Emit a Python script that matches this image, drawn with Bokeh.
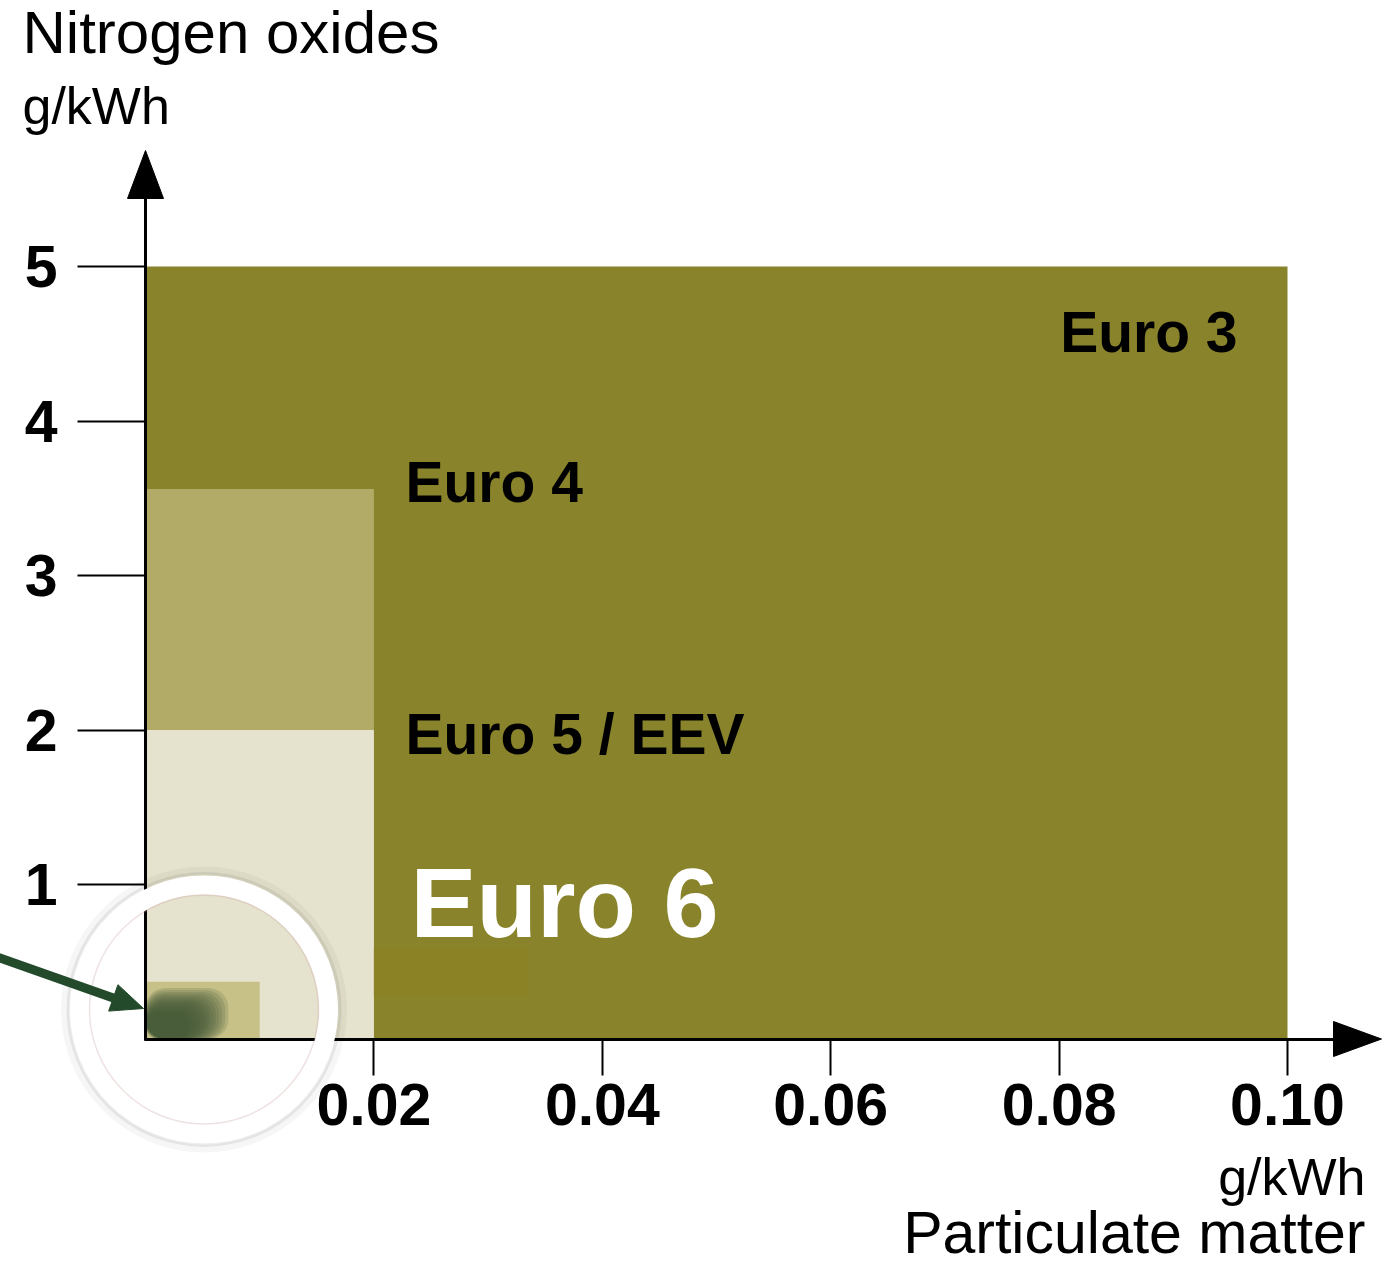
import math
from bokeh.plotting import figure
from bokeh.models import LinearAxis, FixedTicker, Range1d, Label
from bokeh.embed import file_html
from bokeh.resources import INLINE

# ---------------- data ----------------
standards = ["Euro 3", "Euro 4", "Euro 5 / EEV", "Euro 6"]
pm_limit = [0.10, 0.02, 0.02, 0.01]        # particulate matter, g/kWh
nox_limit = [5.0, 3.56, 2.0, 0.37]         # nitrogen oxides, g/kWh
box_colors = ["#89832b", "#b2aa67", "#e5e2cd", "#c7c187"]

future_pm = 0.0055                          # dark highlighted corner
future_nox = 0.25

x_ticks = [0.02, 0.04, 0.06, 0.08, 0.10]
x_tick_labels = ["0.02", "0.04", "0.06", "0.08", "0.10"]
y_ticks = [1, 2, 3, 4, 5]
y_tick_labels = ["1", "2", "3", "4", "5"]

# ---------------- geometry ----------------
W, H = 1383, 1270
OX, OY = 145.0, 1038.5          # origin in picture pixels
PX_X = 11420.0                  # pixels per g/kWh (PM)
PX_Y = 154.5                    # pixels per g/kWh (NOx)


def dx(px):
    return (px - OX) / PX_X


def dy(py):
    return (OY - py) / PX_Y


FONT = "Liberation Sans"
GREEN = "#234a2b"

p = figure(width=W, height=H,
           x_range=Range1d(dx(0), dx(W)),
           y_range=Range1d(dy(H), dy(0)),
           min_border=0, toolbar_location=None, output_backend="svg",
           x_axis_type=None, y_axis_type=None)
p.outline_line_color = None
p.background_fill_color = "white"
p.border_fill_color = "white"

# ---------------- boxes ----------------
for pm, nox, col in zip(pm_limit, nox_limit, box_colors):
    p.quad(left=0, right=pm, bottom=0, top=nox, fill_color=col,
           line_color=None)

# faint darker band behind the Euro 6 label (as in the picture)
p.quad(left=pm_limit[1], right=pm_limit[1] + 0.0135, bottom=0.27, top=0.59,
       fill_color="#8b8226", line_color=None)

# blurred dark-green corner (stacked translucent layers)
n_layers = 14
for i in range(n_layers):
    k = 1.32 - 0.05 * i
    p.quad(left=0, right=future_pm * k, bottom=0, top=future_nox * k,
           fill_color="#44593a", fill_alpha=0.18, line_color=None,
           border_radius=20)

# ---------------- axes ----------------
x_tip = dx(1381)
y_tip = dy(150)
common = dict(fixed_location=0, axis_line_width=3, axis_line_color="black",
              major_tick_in=0, major_tick_line_width=2,
              major_tick_line_color="black", minor_tick_out=0, minor_tick_in=0,
              major_label_text_font=FONT, major_label_text_font_style="bold",
              major_label_text_font_size="59px", major_label_text_color="black")
xaxis = LinearAxis(bounds=(dx(OX - 1.5), x_tip - 30 / PX_X),
                   ticker=FixedTicker(ticks=x_ticks),
                   major_label_overrides={t: s for t, s in zip(x_ticks, x_tick_labels)},
                   major_tick_out=36, major_label_standoff=9, **common)
p.add_layout(xaxis, "below")

yaxis = LinearAxis(bounds=(dy(OY + 1.5), y_tip - 30 / PX_Y),
                   ticker=FixedTicker(ticks=y_ticks),
                   major_label_overrides={t: s for t, s in zip(y_ticks, y_tick_labels)},
                   major_tick_out=68, major_label_standoff=20, **common)
p.add_layout(yaxis, "left")

# arrow heads of the axes
hl_y, hw_x = 48 / PX_Y, 18 / PX_X
p.patch([-hw_x, 0, hw_x], [y_tip - hl_y, y_tip, y_tip - hl_y],
        fill_color="black", line_color="black")
hl_x, hw_y = 48 / PX_X, 17.5 / PX_Y
p.patch([x_tip - hl_x, x_tip, x_tip - hl_x], [-hw_y, 0, hw_y],
        fill_color="black", line_color="black")

# ---------------- magnifier ring ----------------
cx, cy = dx(203.5), dy(1009)
for r, a, w in [(139, 0.035, 8), (135.5, 0.07, 4)]:
    p.circle(x=[cx], y=[cy], radius=r, radius_units="screen",
             fill_color=None, line_color="black", line_alpha=a, line_width=w,
             level="annotation")
p.circle(x=[cx], y=[cy], radius=124.5, radius_units="screen",
         fill_color=None, line_color="white", line_width=19,
         level="annotation")
p.circle(x=[cx], y=[cy], radius=114.5, radius_units="screen",
         fill_color=None, line_color="#c9a0a0", line_alpha=0.3, line_width=1.5,
         level="annotation")

# ---------------- green pointer arrow ----------------
sx0, sy0 = -5.0, 956.0           # start (picture px)
sx1, sy1 = 143.0, 1008.0         # tip
ux, uy = sx1 - sx0, sy1 - sy0
ln = math.hypot(ux, uy)
ux, uy = ux / ln, uy / ln
head_len, head_half = 32.0, 14.0
bx, by = sx1 - head_len * ux, sy1 - head_len * uy
p.line([dx(sx0), dx(bx + 3 * ux)], [dy(sy0), dy(by + 3 * uy)],
       line_color=GREEN, line_width=9, level="annotation")
p.patch([dx(sx1), dx(bx - head_half * uy), dx(bx + head_half * uy)],
        [dy(sy1), dy(by + head_half * ux), dy(by - head_half * ux)],
        fill_color=GREEN, line_color=GREEN, level="annotation")


# ---------------- texts ----------------
def add_label(txt, px, py, size, style="normal", color="black", align="left"):
    # py is the wanted baseline (picture px); compensate bokeh's anchor
    p.add_layout(Label(x=dx(px), y=dy(py - 0.38 * size), text=txt,
                       text_font=FONT, text_font_size=f"{size}px",
                       text_font_style=style, text_color=color,
                       text_align=align, text_baseline="alphabetic"))


add_label("Nitrogen oxides", 22, 55, 60)
add_label("g/kWh", 22, 125, 52)
add_label("g/kWh", 1365, 1196, 52, align="right")
add_label("Particulate matter", 1365, 1255, 59, align="right")

add_label(standards[0], 1237, 353, 57, "bold", align="right")
add_label(standards[1], 405, 503, 57, "bold")
add_label(standards[2], 405, 755, 57, "bold")
add_label(standards[3], 410, 940, 99, "bold", color="#ffffff")

open("out.html", "w").write(file_html(p, INLINE))
